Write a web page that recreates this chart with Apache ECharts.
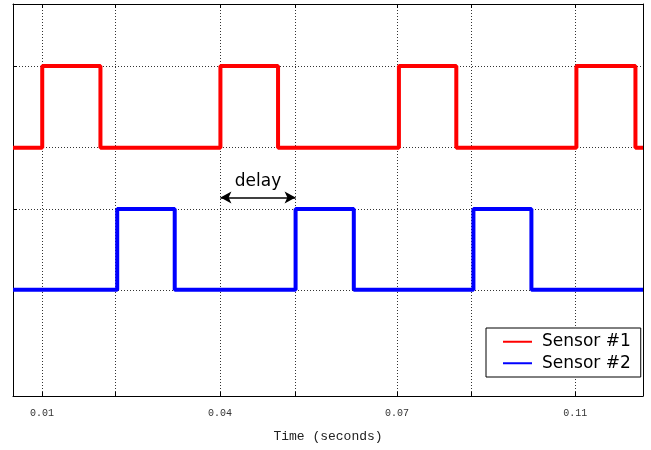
<!DOCTYPE html>
<html>
<head>
<meta charset="utf-8">
<script src="https://cdn.jsdelivr.net/npm/echarts@6.0.0/dist/echarts.min.js"></script>
<style>
  html, body { margin: 0; padding: 0; background: #fff; }
  #chart { width: 651px; height: 450px; }
</style>
</head>
<body>
<div id="chart"></div>
<script>
// time range of the plot (seconds)
const xMin = 0.01;
const xMax = 0.1167;
const yMin = -3.04;
const yMax = 1.76;

// sensor 1: edge times and levels
const redTimes = [0.01, 0.01495, 0.02481, 0.04513, 0.05489, 0.07536, 0.08508, 0.10542, 0.11542, 0.1167];
const redValues = [0, 1, 0, 1, 0, 1, 0, 1, 0, 0];

// sensor 2: edge times and levels
const blueTimes = [0.01, 0.02765, 0.03739, 0.05786, 0.06772, 0.08798, 0.0978, 0.1167];
const blueValues = [-1.74, -0.75, -1.74, -0.75, -1.74, -0.75, -1.74, -1.74];

// grid / ticks
const gridTimes = [0.01491, 0.02734, 0.04507, 0.05785, 0.07505, 0.08759, 0.10521];
const labelTimes = [0.01491, 0.04507, 0.07505, 0.10521];
const tickLabels = ["0.01", "0.04", "0.07", "0.11"];
const gridLevels = [1, 0, -0.75, -1.74];

// delay arrow height
const delayLevel = -0.61;

function toPairs(xs, ys) {
  return xs.map((x, i) => [x, ys[i]]);
}

const chart = echarts.init(document.getElementById("chart"));

const gridLine = { show: true, lineStyle: { color: "#333", width: 1, type: [1, 2] } };
const frameLine = { show: true, onZero: false, lineStyle: { color: "#000", width: 1 } };

let option = {
  animation: false,
  backgroundColor: "#fff",
  grid: { left: 13, right: 8, top: 4, bottom: 54, outerBoundsMode: "none" },
  legend: {
    orient: "vertical",
    left: 486,
    top: 328,
    align: "left",
    icon: "rect",
    itemWidth: 29,
    itemHeight: 2,
    itemGap: 0,
    padding: [3, 10, 3, 17],
    backgroundColor: "#fff",
    borderColor: "#000",
    borderWidth: 1,
    borderRadius: 0,
    textStyle: { fontFamily: "DejaVu Sans", fontSize: 17, color: "#000", lineHeight: 21.5, padding: [0, 0, 0, 5] },
    data: ["Sensor #1", "Sensor #2"],
  },
  xAxis: [
    {
      type: "value",
      min: xMin,
      max: xMax,
      position: "bottom",
      axisLine: frameLine,
      axisTick: { show: true, inside: true, length: 4, customValues: gridTimes, lineStyle: { color: "#000" } },
      axisLabel: {
        customValues: labelTimes,
        margin: 12,
        fontFamily: "Liberation Mono",
        fontSize: 10,
        color: "#333",
        formatter: function (value) {
          let i = labelTimes.indexOf(value);
          return i >= 0 ? tickLabels[i] : "";
        },
      },
      splitLine: gridLine,
      name: "Time (seconds)",
      nameLocation: "middle",
      nameGap: 34,
      nameTextStyle: { fontFamily: "Liberation Mono", fontSize: 13, color: "#222" },
    },
    {
      type: "value",
      min: xMin,
      max: xMax,
      position: "top",
      axisLine: frameLine,
      axisTick: { show: true, inside: true, length: 4, customValues: gridTimes, lineStyle: { color: "#000" } },
      axisLabel: { show: false },
      splitLine: { show: false },
    },
  ],
  yAxis: [
    {
      type: "value",
      min: yMin,
      max: yMax,
      position: "left",
      axisLine: frameLine,
      axisTick: { show: true, inside: true, length: 4, customValues: gridLevels, lineStyle: { color: "#000" } },
      axisLabel: { show: false },
      splitLine: gridLine,
    },
    {
      type: "value",
      min: yMin,
      max: yMax,
      position: "right",
      axisLine: frameLine,
      axisTick: { show: false },
      axisLabel: { show: false },
      splitLine: { show: false },
    },
  ],
  series: [
    {
      name: "Sensor #1",
      type: "line",
      step: "end",
      showSymbol: false,
      color: "#ff0000",
      lineStyle: { width: 4, color: "#ff0000" },
      data: toPairs(redTimes, redValues),
      markLine: {
        silent: true,
        symbol: ["arrow", "arrow"],
        symbolSize: [9, 11],
        lineStyle: { color: "#000", width: 1.5, type: "solid" },
        label: {
          show: true,
          position: "middle",
          distance: 7,
          formatter: "delay",
          fontFamily: "DejaVu Sans",
          fontSize: 17,
          color: "#000",
        },
        data: [[{ coord: [redTimes[3], delayLevel] }, { coord: [blueTimes[3], delayLevel] }]],
      },
    },
    {
      name: "Sensor #2",
      type: "line",
      step: "end",
      showSymbol: false,
      color: "#0000ff",
      lineStyle: { width: 4, color: "#0000ff" },
      data: toPairs(blueTimes, blueValues),
    },
  ],
};

chart.setOption(option);
</script>
</body>
</html>
